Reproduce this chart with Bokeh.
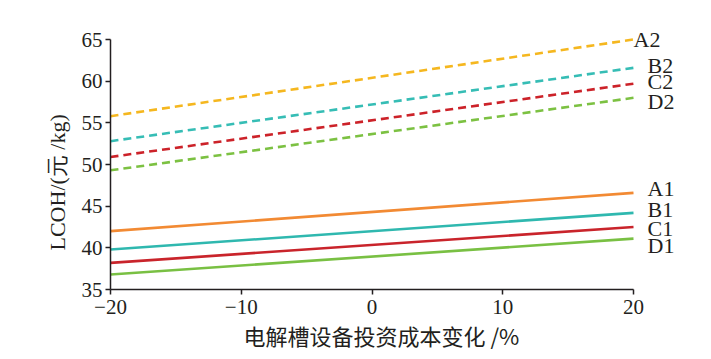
from bokeh.plotting import figure
from bokeh.models import Label, FixedTicker, Title
from bokeh.embed import file_html
from bokeh.resources import INLINE

# data
x_change = [-20, 20]
series_names = ["A2", "B2", "C2", "D2", "A1", "B1", "C1", "D1"]
A2 = [55.8, 65.0]
B2 = [52.8, 61.6]
C2 = [50.9, 59.7]
D2 = [49.3, 58.0]
A1 = [42.0, 46.6]
B1 = [39.8, 44.2]
C1 = [38.2, 42.5]
D1 = [36.8, 41.1]
series_values = [A2, B2, C2, D2, A1, B1, C1, D1]
x_ticks = [-20, -10, 0, 10, 20]
y_ticks = [35, 40, 45, 50, 55, 60, 65]
x_label = "电解槽设备投资成本变化 /%"
y_label = "LCOH/(元 /kg)"

# styles
colors = ["#F5B71F", "#36BDB5", "#CC2229", "#7CC142",
          "#F28A33", "#2FB8AF", "#C9242B", "#79C043"]
dashes = ["dashed"] * 4 + ["solid"] * 4
label_dx = [0, 14, 14, 14, 14, 14, 14, 14]
label_dy = [0, 2, 2, -4, 4, 3, -1, -7]

SERIF = "Liberation Serif"
W, H = 711, 359
LEFT, TOP, BOTTOM = 110, 20, 70
FRAME_X0, FRAME_X1 = 110, 633      # pixel positions of x=-20 and x=20
FRAME_Y65, FRAME_Y35 = 39, 289     # pixel positions of y=65 and y=35
xpp = 40 / (FRAME_X1 - FRAME_X0)
ypp = 30 / (FRAME_Y35 - FRAME_Y65)
x_end = 20 + (W - FRAME_X1) * xpp
y_end = 65 + (FRAME_Y65 - TOP) * ypp

p = figure(width=W, height=H, x_range=(-20, x_end), y_range=(35, y_end),
           output_backend="svg", toolbar_location=None,
           min_border_left=LEFT, min_border_right=0,
           min_border_top=TOP, min_border_bottom=BOTTOM)
p.outline_line_color = None
p.grid.visible = False
p.background_fill_color = "white"
p.border_fill_color = "white"

for vals, c, d in zip(series_values, colors, dashes):
    p.line(x_change, vals, line_color=c, line_width=2.6,
           line_dash=("8 5" if d == "dashed" else "solid"))

for name, vals, c, dx, dy in zip(series_names, series_values, colors, label_dx, label_dy):
    p.add_layout(Label(x=x_change[-1], y=vals[-1], text=name, x_offset=dx, y_offset=dy,
                       text_font=SERIF, text_font_size="22px", text_color="#231F20",
                       text_baseline="middle", text_align="left"))

for ax in (p.xaxis[0], p.yaxis[0]):
    ax.axis_line_color = "#231F20"
    ax.axis_line_width = 1.5
    ax.major_tick_line_color = "#231F20"
    ax.major_tick_line_width = 1.5
    ax.major_tick_out = 5
    ax.major_tick_in = 0
    ax.minor_tick_line_color = None
    ax.major_label_text_font = SERIF
    ax.major_label_text_font_size = "21px"
    ax.major_label_text_color = "#231F20"

p.xaxis[0].bounds = (-20, 20)
p.yaxis[0].bounds = (35, 65)
p.xaxis[0].ticker = FixedTicker(ticks=x_ticks)
p.yaxis[0].ticker = FixedTicker(ticks=y_ticks)
p.xaxis[0].major_label_overrides = {t: ("\u2212" + str(-t) if t < 0 else str(t)) for t in x_ticks}
p.xaxis[0].major_label_standoff = 5
p.yaxis[0].major_label_standoff = 3

p.add_layout(Title(text=x_label, align="left", offset=133,
                   text_font="Noto Sans CJK SC", text_font_style="normal",
                   text_font_size="22px", text_color="#231F20", standoff=0), "below")

p.add_layout(Title(text=y_label, align="left", offset=39,
                   text_font=SERIF, text_font_style="normal",
                   text_font_size="22px", text_color="#231F20", standoff=17), "left")

open("out.html", "w").write(file_html(p, INLINE))
